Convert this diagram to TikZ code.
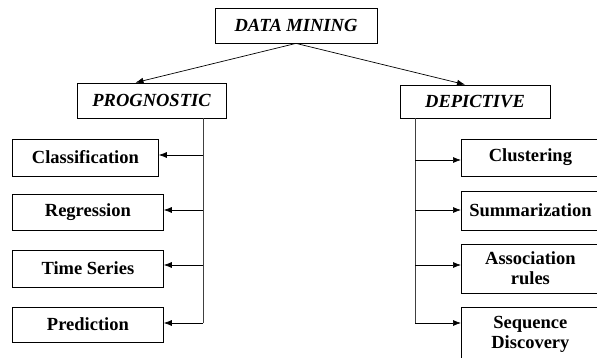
\documentclass[tikz,border=0pt]{standalone}
\usepackage{fontspec}
\setmainfont{Liberation Serif}
\usetikzlibrary{positioning,arrows.meta}

\begin{document}
\begin{tikzpicture}[x=1pt, y=1pt,
  box/.style={rectangle, draw=black, fill=white, line width=0.8pt,
              inner sep=0pt, align=center,
              font=\fontsize{18.5}{20}\selectfont\bfseries},
  topbox/.style={box, font=\fontsize{18.5}{20}\selectfont\bfseries\itshape},
  lbox/.style={box, anchor=west, minimum width=151pt},
  rbox/.style={box, anchor=west, minimum width=138pt},
  line/.style={line width=0.8pt, draw=black!75},
  arr/.style={-{Latex[length=8pt, width=6pt]}, line width=0.7pt},
]
  \useasboundingbox (0,0) rectangle (597,-358);
  \clip (0,0) rectangle (597,-358);

  % ---- Top levels ----
  \node[topbox, minimum width=162pt, minimum height=35pt] (dm) at (296,-25.5) {DATA MINING};
  \node[topbox, minimum width=149pt, minimum height=35pt] (prog) at (151.5,-100.5) {PROGNOSTIC};
  \node[topbox, minimum width=150pt, minimum height=33pt] (dep) at (475,-101.5) {DEPICTIVE};

  % ---- Prognostic tasks ----
  \node[lbox, minimum width=146pt, minimum height=37pt] (cls) at (12,-157.5) {Classification};
  \node[lbox, minimum height=36pt] (reg) at (12,-212) {Regression};
  \node[lbox, minimum height=37pt] (ts) at (12,-268.5) {Time Series};
  \node[lbox, minimum height=35pt] (pred) at (12,-324.5) {Prediction};

  % ---- Depictive tasks ----
  \node[rbox, minimum height=37pt] (clu) at (461,-157.5) {Clustering};
  \node[rbox, minimum height=39pt] (sum) at (461,-210.5) {Summarization};
  \node[rbox, minimum height=49pt] (assoc) at (461,-268.5) {Association\\rules};
  \node[rbox, minimum height=54pt] (seq) at (461,-334) {Sequence\\Discovery};

  % ---- Top arrows ----
  \draw[arr] (dm.south) -- ([xshift=-16pt]prog.north);
  \draw[arr] (dm.south) -- ([xshift=-10pt]dep.north);

  % ---- Left bus ----
  \coordinate (lbus) at (203,-323);
  \draw[line] (lbus |- prog.south) -- (lbus);
  \draw[arr] (lbus |- 0,-155) -- (cls.east |- 0,-155);
  \draw[arr] (lbus |- 0,-210) -- (reg.east |- 0,-210);
  \draw[arr] (lbus |- 0,-265) -- (ts.east |- 0,-265);
  \draw[arr] (lbus) -- (pred.east |- lbus);

  % ---- Right bus ----
  \coordinate (rbus) at (415,-323);
  \draw[line] (rbus |- dep.south) -- (rbus);
  \draw[arr] (rbus |- 0,-160) -- (clu.west |- 0,-160);
  \draw[arr] (rbus |- 0,-210) -- (sum.west |- 0,-210);
  \draw[arr] (rbus |- 0,-265) -- (assoc.west |- 0,-265);
  \draw[arr] (rbus) -- (seq.west |- rbus);
\end{tikzpicture}
\end{document}
